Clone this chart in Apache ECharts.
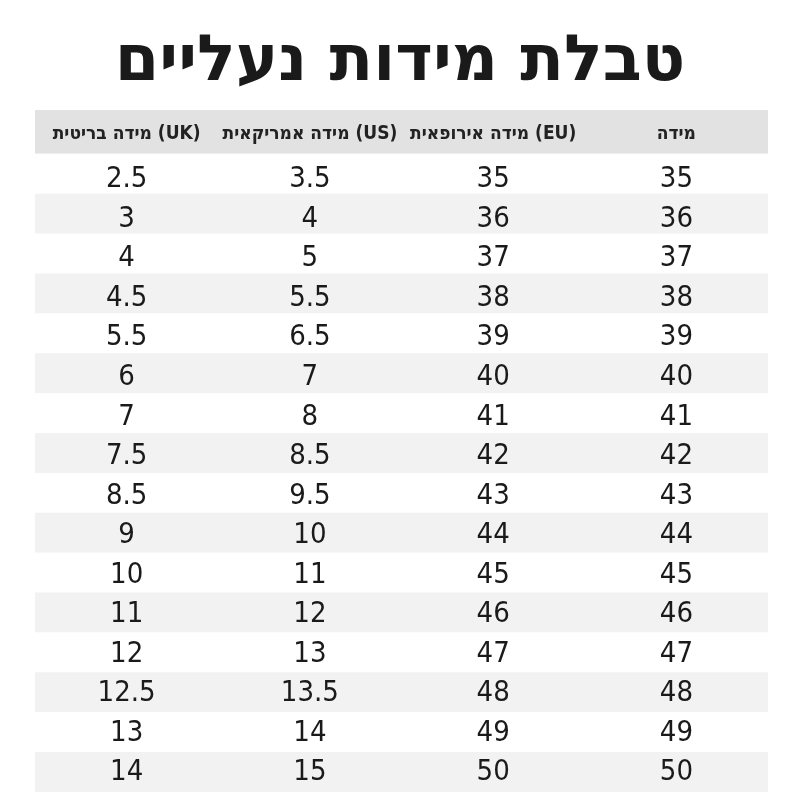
<!DOCTYPE html>
<html><head><meta charset="utf-8">
<script src="https://cdn.jsdelivr.net/npm/echarts@6/dist/echarts.min.js"></script>
<style>html,body{margin:0;background:#fff}#c{width:800px;height:800px}</style>
</head><body><div id="c"></div>
<script>
const title = 'טבלת מידות נעליים';
const headers = ['מידה בריטית (UK)', 'מידה אמריקאית (US)', 'מידה אירופאית (EU)', 'מידה'];
const ukSizes = ['2.5','3','4','4.5','5.5','6','7','7.5','8.5','9','10','11','12','12.5','13','14'];
const usSizes = ['3.5','4','5','5.5','6.5','7','8','8.5','9.5','10','11','12','13','13.5','14','15'];
const euSizes = ['35','36','37','38','39','40','41','42','43','44','45','46','47','48','49','50'];
const sizes = ['35','36','37','38','39','40','41','42','43','44','45','46','47','48','49','50'];

const columns = [ukSizes, usSizes, euSizes, sizes];
const cells = [];
columns.forEach((col, c) => col.forEach((v, r) => cells.push([c, r, v])));
const headerCells = headers.map((h, c) => [c, -0.55, h]);
const rowBands = [[-1.1, 0, 'h']];
for (let r = 0; r < sizes.length; r++) rowBands.push([r, r + 1, r % 2 ? 's' : 'w']);

const numFont = "'Liberation Sans Narrow','DejaVu Sans Condensed',sans-serif";
const chart = echarts.init(document.getElementById('c'));
chart.setOption({
  animation: false,
  title: { text: title, left: 'center', top: 26,
    textStyle: { fontFamily: 'DejaVu Sans', fontWeight: 'bold', fontSize: 64, color: '#1a1a1a' } },
  grid: { left: 35, right: 32, top: 110, bottom: 8 },
  xAxis: { type: 'category', data: [0,1,2,3], show: false },
  yAxis: { type: 'value', min: -1.1, max: 16, inverse: true, show: false },
  series: [
    { type: 'custom', data: rowBands, silent: true,
      renderItem: (params, api) => {
        const cs = params.coordSys;
        const y0 = api.coord([0, api.value(0)])[1], y1 = api.coord([0, api.value(1)])[1];
        const kind = rowBands[params.dataIndex][2];
        const fill = kind === 'h' ? '#e2e2e2' : kind === 's' ? '#f2f2f2' : '#ffffff';
        return { type: 'rect', shape: { x: cs.x, y: y0, width: cs.width, height: y1 - y0 }, style: { fill } };
      } },
    { type: 'custom', data: headerCells, silent: true,
      renderItem: (params, api) => {
        const p = api.coord([api.value(0), api.value(1)]);
        return { type: 'text', x: p[0], y: p[1] + 2, style: { text: headerCells[params.dataIndex][2],
          align: 'center', verticalAlign: 'middle', fontFamily: 'DejaVu Sans Condensed', fontWeight: 'bold', fontSize: 19, fill: '#222' } };
      } },
    { type: 'custom', data: cells, silent: true,
      renderItem: (params, api) => {
        const r = api.value(1);
        const p = api.coord([api.value(0), r + 0.5]);
        return { type: 'text', x: p[0], y: p[1] + 6 - r * 0.35, style: { text: cells[params.dataIndex][2],
          align: 'center', verticalAlign: 'middle', fontFamily: numFont, fontSize: 29, fill: '#1a1a1a' } };
      } }
  ]
});
</script></body></html>
